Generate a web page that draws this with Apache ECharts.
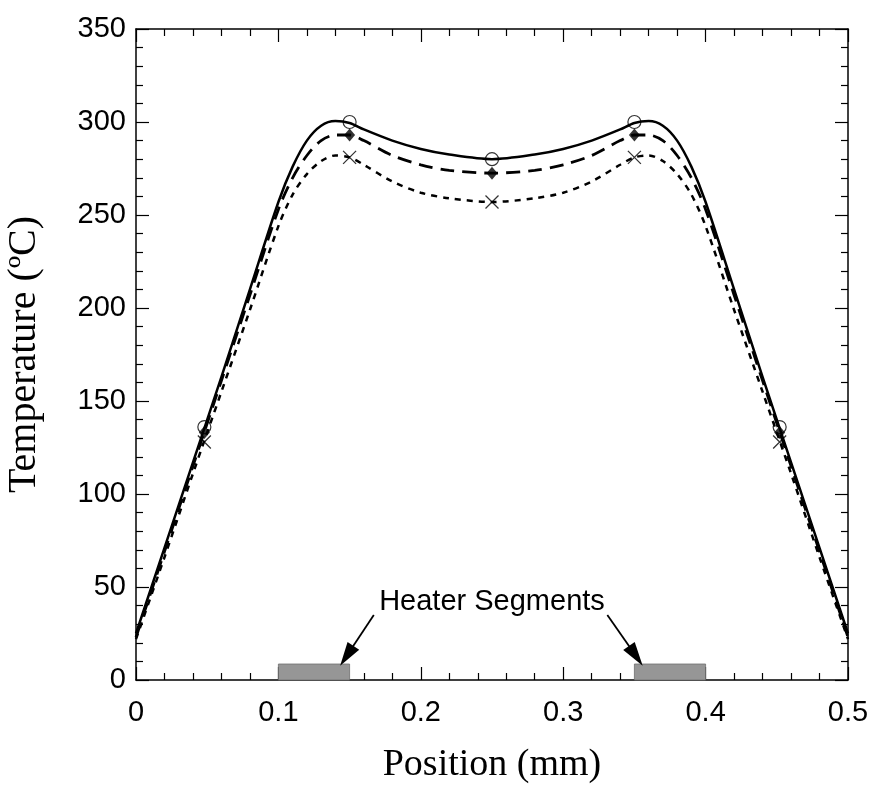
<!DOCTYPE html>
<html>
<head>
<meta charset="utf-8">
<script src="https://cdn.jsdelivr.net/npm/echarts@6/dist/echarts.min.js"></script>
<style>
  html, body { margin: 0; padding: 0; background: #fff; }
  #chart { width: 876px; height: 803px; }
</style>
</head>
<body>
<div id="chart"></div>
<script>
// position (mm) where the curves are sampled
const posX = [0, 0.02, 0.04, 0.06, 0.08, 0.1, 0.11, 0.12, 0.13, 0.14, 0.15, 0.16, 0.18, 0.2, 0.22, 0.25,
  0.28, 0.3, 0.32, 0.34, 0.35, 0.36, 0.37, 0.38, 0.39, 0.4, 0.42, 0.44, 0.46, 0.48, 0.5];
// temperatures (ºC)
const solidT = [25, 71, 117, 163, 210, 257, 276, 290, 298, 300.5, 299.5, 296, 290, 285.5, 282.5, 280,
  282.5, 285.5, 290, 296, 299.5, 300.5, 298, 290, 276, 257, 210, 163, 117, 71, 25];
const longDashT = [23, 69, 115, 161, 207, 253, 270, 282, 290, 293, 293, 290, 282, 277, 274, 272.5,
  274, 277, 282, 290, 293, 293, 290, 282, 270, 253, 207, 161, 115, 69, 23];
const shortDashT = [22, 66, 111, 155, 199, 244, 261, 272, 279, 282, 281, 277, 268, 262, 259, 257,
  259, 262, 268, 277, 281, 282, 279, 272, 261, 244, 199, 155, 111, 66, 22];

// marker points
const markX = [0.048, 0.15, 0.25, 0.35, 0.452];
const circleT = [136, 300, 280, 300, 136];
const diamondT = [133, 293, 272.5, 293, 133];
const crossT = [128, 281, 257, 281, 128];

// heater segments
const heaterStart = [0.1, 0.35];
const heaterEnd = [0.15, 0.4];
const heaterTop = 8.6;
const heaterText = 'Heater Segments';
const heaterTextAt = [0.25, 42];
const arrowFrom = [[0.167, 35], [0.331, 35]];
const arrowTo = [[0.148, 13], [0.351, 13]];

const pair = (xs, ys) => xs.map((x, i) => [x, ys[i]]);

const chart = echarts.init(document.getElementById('chart'));

const sansFont = "'Liberation Sans', Arial, Helvetica, sans-serif";
const serifFont = "'Liberation Serif', 'Times New Roman', Times, serif";

const tickLine = { color: '#000', width: 1.2 };
const baseAxis = {
  type: 'value',
  axisLine: { show: true, onZero: false, lineStyle: { color: '#000', width: 1.5 } },
  axisTick: { show: true, inside: true, length: 13, lineStyle: tickLine },
  minorTick: { show: true, splitNumber: 5, length: 7, lineStyle: tickLine },
  splitLine: { show: false },
};

const option = {
  animation: false,
  backgroundColor: '#fff',
  grid: { left: 136, right: 28, top: 29, bottom: 123, outerBoundsMode: 'none', containLabel: false },
  xAxis: [
    {
      ...baseAxis,
      position: 'bottom',
      min: 0, max: 0.5, interval: 0.1,
      axisLabel: {
        color: '#000', fontFamily: sansFont, fontSize: 29, margin: 18,
        formatter: v => String(+v.toFixed(1))
      },
      name: 'Position (mm)',
      nameLocation: 'middle',
      nameGap: 66,
      nameTextStyle: { color: '#000', fontFamily: serifFont, fontSize: 38 }
    },
    {
      ...baseAxis,
      position: 'top',
      min: 0, max: 0.5, interval: 0.1,
      axisLabel: { show: false }
    }
  ],
  yAxis: [
    {
      ...baseAxis,
      position: 'left',
      min: 0, max: 350, interval: 50,
      axisLabel: { color: '#000', fontFamily: sansFont, fontSize: 29, margin: 10 },
      name: 'Temperature (ºC)',
      nameLocation: 'middle',
      nameGap: 92,
      nameTextStyle: { color: '#000', fontFamily: serifFont, fontSize: 40 }
    },
    {
      ...baseAxis,
      position: 'right',
      min: 0, max: 350, interval: 50,
      axisLabel: { show: false }
    }
  ],
  series: [
    {
      // heater blocks on the x axis
      type: 'custom',
      data: heaterStart.map((s, i) => [s, heaterEnd[i]]),
      renderItem: (params, api) => {
        const p0 = api.coord([api.value(0), heaterTop]);
        const p1 = api.coord([api.value(1), 0]);
        return {
          type: 'rect',
          shape: { x: p0[0], y: p0[1], width: p1[0] - p0[0], height: p1[1] - p0[1] },
          style: { fill: '#969696', stroke: '#6e6e6e', lineWidth: 0.8 }
        };
      },
      z: 3
    },
    {
      type: 'line',
      data: pair(posX, solidT),
      symbol: 'none',
      smooth: 0.3,
      lineStyle: { color: '#000', width: 2.5 },
      markLine: {
        silent: true,
        symbol: ['none', 'triangle'],
        symbolSize: [1, 20],
        lineStyle: { color: '#000', width: 1.8, type: 'solid' },
        label: { show: false },
        data: arrowFrom.map((f, i) => [
          { coord: f, symbol: 'none' },
          { coord: arrowTo[i], symbol: 'triangle', symbolSize: [14, 24] }
        ])
      },
      markPoint: {
        silent: true,
        symbol: 'rect',
        symbolSize: 1,
        itemStyle: { color: 'transparent' },
        label: {
          show: true, position: 'inside', formatter: heaterText,
          color: '#000', fontFamily: sansFont, fontSize: 29
        },
        data: [{ coord: heaterTextAt }]
      }
    },
    {
      type: 'line',
      data: pair(posX, longDashT),
      symbol: 'none',
      smooth: 0.3,
      lineStyle: { color: '#000', width: 2.8, type: [14, 8] }
    },
    {
      type: 'line',
      data: pair(posX, shortDashT),
      symbol: 'none',
      smooth: 0.3,
      lineStyle: { color: '#000', width: 2.5, type: [6, 6] }
    },
    {
      type: 'scatter',
      data: pair(markX, circleT),
      symbol: 'circle',
      symbolSize: 13,
      itemStyle: { color: 'transparent', borderColor: '#000', borderWidth: 1.2 },
      z: 5
    },
    {
      type: 'scatter',
      data: pair(markX, diamondT),
      symbol: 'diamond',
      symbolSize: [11, 13],
      itemStyle: { color: '#000' },
      z: 5
    },
    {
      type: 'scatter',
      data: pair(markX, crossT),
      symbol: 'path://M0,0L10,10M10,0L0,10',
      symbolSize: 13,
      itemStyle: { color: 'transparent', borderColor: '#000', borderWidth: 1.3 },
      z: 5
    }
  ]
};

chart.setOption(option);
</script>
</body>
</html>
